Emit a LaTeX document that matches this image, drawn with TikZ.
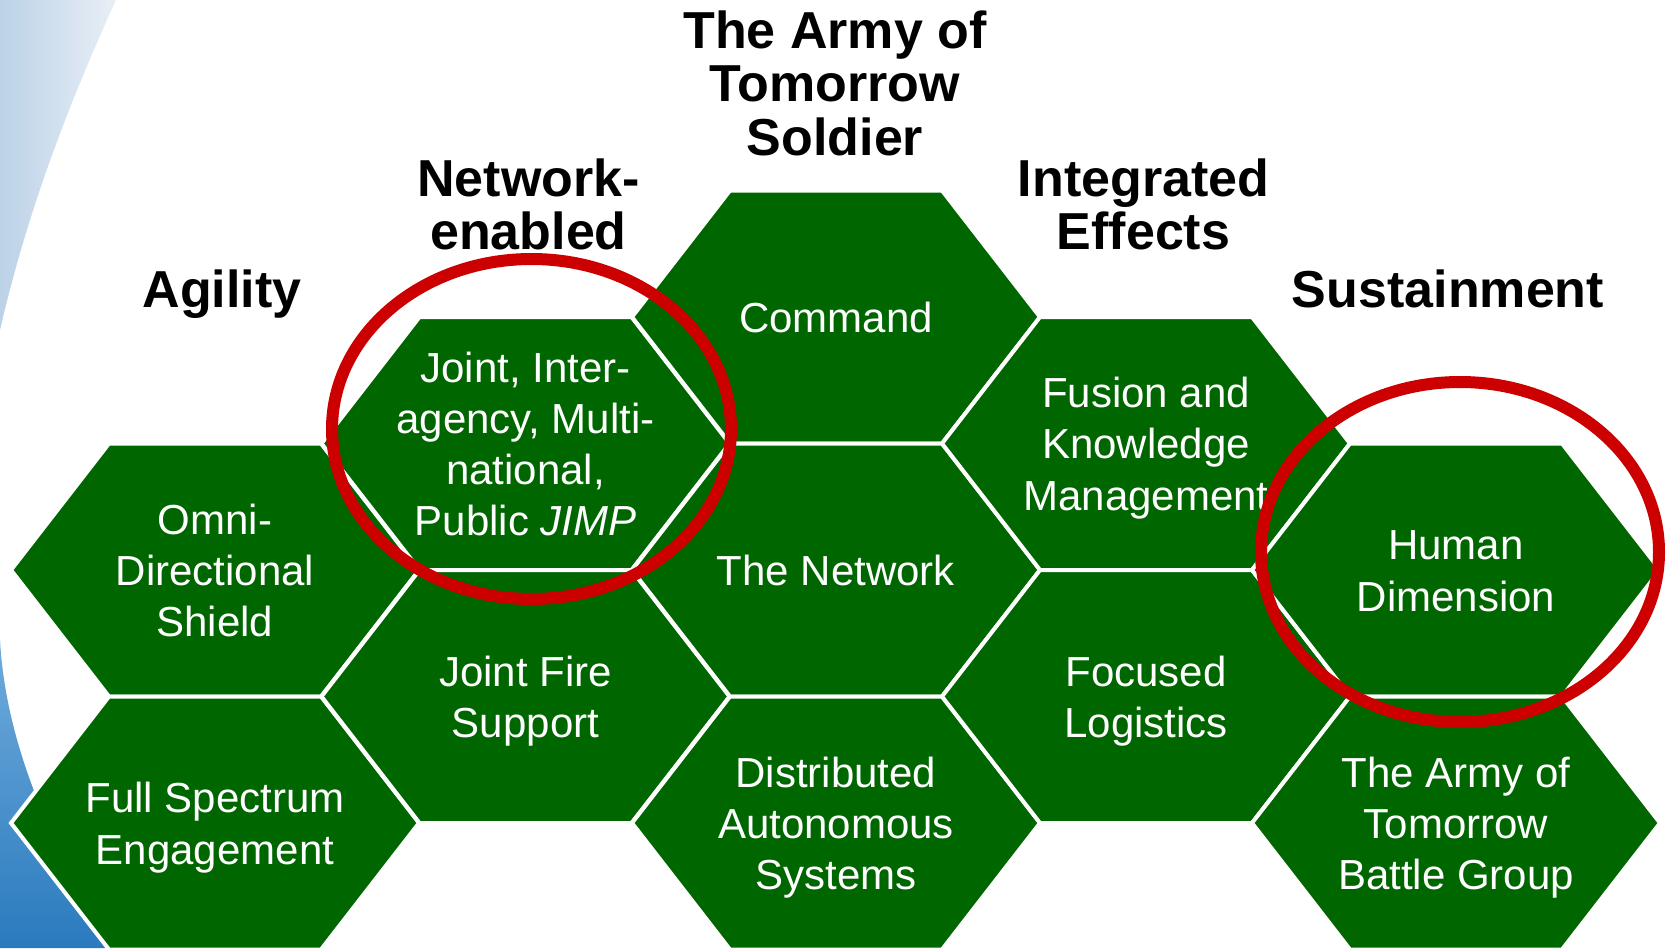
\documentclass[tikz,border=0pt]{standalone}
\usepackage{fontspec}
\setmainfont{Liberation Sans}
\pgfdeclarelayer{bg}
\pgfsetlayers{bg,main}
\definecolor{hexgreen}{RGB}{0,102,0}
\definecolor{ringred}{RGB}{204,0,0}
\definecolor{skyleft}{RGB}{188,210,231}
\definecolor{skyright}{RGB}{232,239,246}
\definecolor{deeptop}{RGB}{112,172,220}
\definecolor{deepbot}{RGB}{42,122,190}
\newcommand\hs{\rule[-10.1pt]{0pt}{51.1pt}}
\newcommand\hh{\rule[-13.5pt]{0pt}{53.5pt}}
\tikzset{
  hextext/.style={text=white, align=center, inner sep=0pt,
    font=\fontsize{42}{51.1}\selectfont},
  headtext/.style={text=black, align=center, inner sep=0pt,
    font=\bfseries\fontsize{52}{53.5}\selectfont},
  hexcell/.style={fill=hexgreen, draw=white, line width=4pt, line join=miter},
  ring/.style={draw=ringred, line width=12pt},
}
\newcommand\hexnode[4]{%
  \node[hextext] (#1) at (#2,#3) {#4};
  \begin{pgfonlayer}{bg}
    \path[hexcell] (#1.center) ++(-204,0) -- ++(98,-126.5) -- ++(212,0)
      -- ++(98,126.5) -- ++(-98,126.5) -- ++(-212,0) -- cycle;
  \end{pgfonlayer}}
\begin{document}
\begin{tikzpicture}[x=1pt,y=-1pt]
\useasboundingbox (0,0) rectangle (1668,948);
\begin{pgfonlayer}{bg}
  \fill[white] (0,0) rectangle (1668,948);
  \shade[left color=skyleft, right color=skyright]
    (0,0) -- (116,0) .. controls (75,90) and (30,200) .. (0,330) -- cycle;
  \shade[top color=deeptop, bottom color=deepbot]
    (0,640) .. controls (5,730) and (40,830) .. (115,948) -- (0,948) -- cycle;
\end{pgfonlayer}

% column 1
\hexnode{omni}{215}{570}{\hs Omni-\\\hs Directional\\\hs Shield}
\hexnode{fse}{215}{823}{\hs Full Spectrum\\\hs Engagement}
% column 2
\hexnode{jimp}{525.5}{443.5}{\hs Joint, Inter-\\\hs agency, Multi-\\\hs national,\\\hs Public \textit{JIMP}}
\hexnode{jfs}{525.5}{696.5}{\hs Joint Fire\\\hs Support}
% column 3
\hexnode{cmd}{836}{317}{\hs Command}
\hexnode{net}{836}{570}{\hs The Network}
\hexnode{das}{836}{823}{\hs Distributed\\\hs Autonomous\\\hs Systems}
% column 4
\hexnode{fkm}{1146}{443.5}{\hs Fusion and\\\hs Knowledge\\\hs Management}
\hexnode{flog}{1146}{696.5}{\hs Focused\\\hs Logistics}
% column 5
\hexnode{hum}{1456}{570}{\hs Human\\\hs Dimension}
\hexnode{atbg}{1456}{823}{\hs The Army of\\\hs Tomorrow\\\hs Battle Group}

% headings
\node[headtext] (hsoldier) at (835,88.25) {\hh The Army of\\\hh Tomorrow\\\hh Soldier};
\node[headtext] (hnet) at (528.5,209.5) {\hh Network-\\\hh enabled};
\node[headtext] (hint) at (1143.5,209.5) {\hh Integrated\\\hh Effects};
\node[headtext] (hagil) at (222,293.75) {\hh Agility};
\node[headtext] (hsust) at (1448,293.75) {\hh Sustainment};

% red rings
\draw[ring] (531.5,429) ellipse [x radius=199.5pt, y radius=170pt];
\draw[ring] (1460,552) ellipse [x radius=199pt, y radius=170pt];
\end{tikzpicture}
\end{document}
